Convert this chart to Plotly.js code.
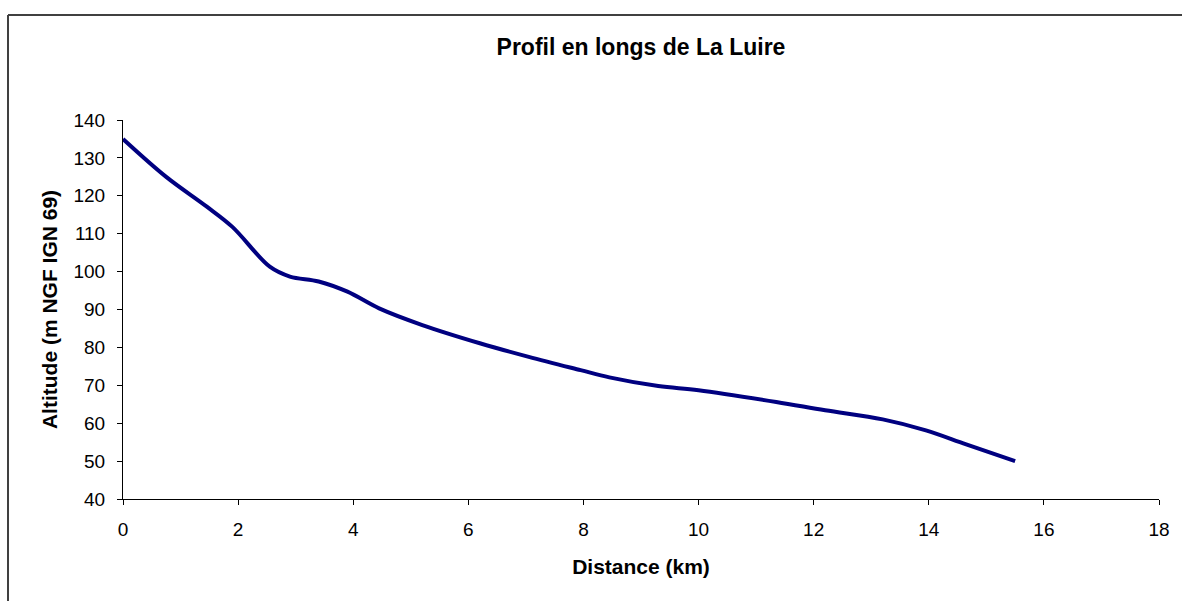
<!DOCTYPE html>
<html>
<head>
<meta charset="utf-8">
<script src="https://cdn.plot.ly/plotly-3.0.1.min.js"></script>
<style>
  html, body { margin: 0; padding: 0; background: #fff; }
  #chart { width: 1182px; height: 601px; }
</style>
</head>
<body>
<div id="chart"></div>
<script>
// Distance along the river (km)
const distanceKm = [0, 0.75, 1.45, 1.9, 2.55, 2.9, 3.4, 3.9, 4.45, 5.2, 6.2, 7.05, 7.95, 8.45, 9.3, 10.0, 11.35, 12.2, 13.2, 13.95, 14.65, 15.5];
// Altitude (m NGF IGN 69)
const altitudeM = [135, 125.0, 117.2, 111.8, 101.3, 98.7, 97.4, 94.7, 90.3, 85.9, 81.1, 77.5, 74.0, 72.1, 69.8, 68.7, 65.6, 63.4, 61.0, 58.1, 54.4, 50.0];

const titleText = "Profil en longs de La Luire";
const xTitle = "Distance (km)";
const yTitle = "Altitude (m NGF IGN 69)";
const xTicks = [0, 2, 4, 6, 8, 10, 12, 14, 16, 18];
const yTicks = [40, 50, 60, 70, 80, 90, 100, 110, 120, 130, 140];

const FONT = "Arial, 'Liberation Sans', sans-serif";

const trace = {
  x: distanceKm,
  y: altitudeM,
  type: "scatter",
  mode: "lines",
  line: { color: "#000080", width: 4, shape: "spline", smoothing: 1 },
  hoverinfo: "x+y"
};

const layout = {
  width: 1182,
  height: 601,
  paper_bgcolor: "#ffffff",
  plot_bgcolor: "#ffffff",
  margin: { l: 123, r: 23, t: 120, b: 102, pad: 0 },
  showlegend: false,
  font: { family: FONT, color: "#000000", size: 19 },
  title: {
    text: "<b>" + titleText + "</b>",
    font: { family: FONT, size: 23, color: "#000000" },
    x: 0.5, xref: "paper", xanchor: "center",
    y: 1 - 47 / 601, yref: "container", yanchor: "middle"
  },
  xaxis: {
    range: [0, 18],
    tickmode: "array",
    tickvals: xTicks,
    ticktext: xTicks.map(String),
    ticks: "outside",
    ticklen: 5,
    tickwidth: 1,
    tickcolor: "#000000",
    ticklabelstandoff: 8,
    showline: true,
    linecolor: "#000000",
    linewidth: 1,
    showgrid: false,
    zeroline: false,
    tickfont: { family: FONT, size: 19, color: "#000000" },
    title: { text: "<b>" + xTitle + "</b>", font: { family: FONT, size: 21, color: "#000000" }, standoff: 20 },
    automargin: false
  },
  yaxis: {
    range: [40, 140],
    tickmode: "array",
    tickvals: yTicks,
    ticktext: yTicks.map(String),
    ticks: "outside",
    ticklen: 5,
    tickwidth: 1,
    tickcolor: "#000000",
    ticklabelstandoff: 8,
    showline: true,
    linecolor: "#000000",
    linewidth: 1,
    showgrid: false,
    zeroline: false,
    tickfont: { family: FONT, size: 19, color: "#000000" },
    title: { text: "<b>" + yTitle + "</b>", font: { family: FONT, size: 21, color: "#000000" }, standoff: 10 },
    automargin: false
  },
  shapes: [
    { type: "line", xref: "paper", yref: "paper", x0: -0.1110, x1: -0.1110, y0: -0.30, y1: 1.277, line: { color: "#404040", width: 2 } },
    { type: "line", xref: "paper", yref: "paper", x0: -0.1110, x1: 1.04, y0: 1.277, y1: 1.277, line: { color: "#404040", width: 2 } }
  ]
};

Plotly.newPlot("chart", [trace], layout, { displayModeBar: false, staticPlot: true });
</script>
</body>
</html>
